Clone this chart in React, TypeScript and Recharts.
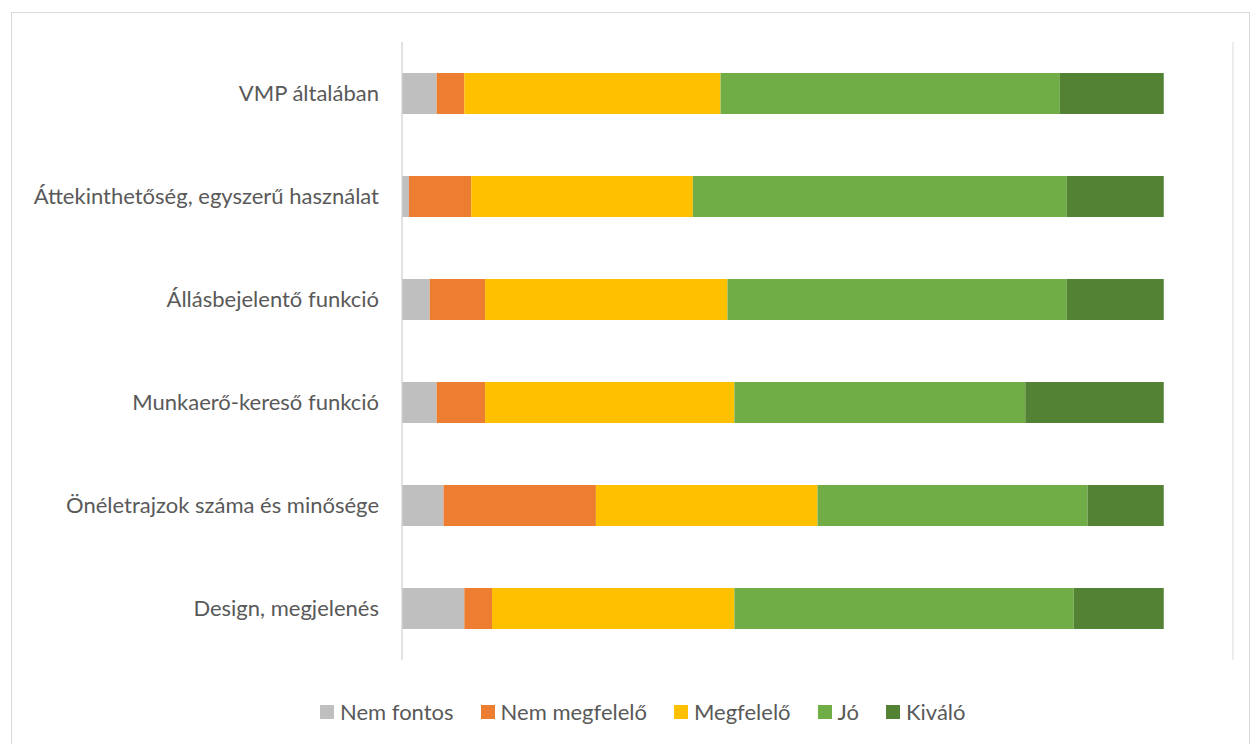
import React from 'react';
import { BarChart, Bar, XAxis, YAxis, CartesianGrid } from 'recharts';

// categories, top to bottom
const categories = [
  'VMP általában',
  'Áttekinthetőség, egyszerű használat',
  'Állásbejelentő funkció',
  'Munkaerő-kereső funkció',
  'Önéletrajzok száma és minősége',
  'Design, megjelenés',
];

// number of answers per rating (110 respondents each)
const nemFontos = [5, 1, 4, 5, 6, 9];
const nemMegfelelo = [4, 9, 8, 7, 22, 4];
const megfelelo = [37, 32, 35, 36, 32, 35];
const jo = [49, 54, 49, 42, 39, 49];
const kivalo = [15, 14, 14, 20, 11, 13];

const xTicks = [0, 20, 40, 60, 80, 100, 120];

const series = [
  { key: 'nemFontos', name: 'Nem fontos', color: '#BFBFBF' },
  { key: 'nemMegfelelo', name: 'Nem megfelelő', color: '#ED7D31' },
  { key: 'megfelelo', name: 'Megfelelő', color: '#FFC000' },
  { key: 'jo', name: 'Jó', color: '#70AD47' },
  { key: 'kivalo', name: 'Kiváló', color: '#548235' },
];

const data = categories.map((name, i) => ({
  name,
  nemFontos: nemFontos[i],
  nemMegfelelo: nemMegfelelo[i],
  megfelelo: megfelelo[i],
  jo: jo[i],
  kivalo: kivalo[i],
}));

const FONT = 'Lato, "Noto Sans", sans-serif';

export default function App() {
  return (
    <div style={{ position: 'absolute', left: 0, top: 0, width: 1251, height: 744, background: '#fff', overflow: 'hidden', fontFamily: FONT }}>
      <div style={{ position: 'absolute', left: 11, top: 12, width: 1237, height: 740, border: '1px solid #d9d9d9' }} />
      <div style={{ position: 'absolute', left: 0, top: 0 }}>
        <BarChart
          width={1251}
          height={744}
          layout="vertical"
          data={data}
          margin={{ top: 42, right: 18, bottom: 84, left: 12 }}
          barSize={41}
        >
          <CartesianGrid horizontal={false} stroke="#d9d9d9" />
          <XAxis
            type="number"
            domain={[0, 120]}
            ticks={xTicks}
            tick={false}
            axisLine={false}
            tickLine={false}
            height={0}
          />
          <YAxis
            type="category"
            dataKey="name"
            width={390}
            tickLine={false}
            axisLine={{ stroke: '#d9d9d9' }}
            tickMargin={17}
            tick={{ fill: '#595959', fontSize: 22, fontFamily: FONT }}
          />
          {series.map((s) => (
            <Bar key={s.key} dataKey={s.key} name={s.name} stackId="a" fill={s.color} isAnimationActive={false} />
          ))}
        </BarChart>
      </div>
      {/* legend */}
      <div style={{ position: 'absolute', left: 320, top: 698, display: 'flex', gap: 27 }}>
        {series.map((s) => (
          <div key={s.key} style={{ display: 'flex', alignItems: 'center', gap: 6 }}>
            <div style={{ width: 14, height: 14, background: s.color }} />
            <span style={{ color: '#595959', fontSize: 22, lineHeight: '28px' }}>{s.name}</span>
          </div>
        ))}
      </div>
    </div>
  );
}
